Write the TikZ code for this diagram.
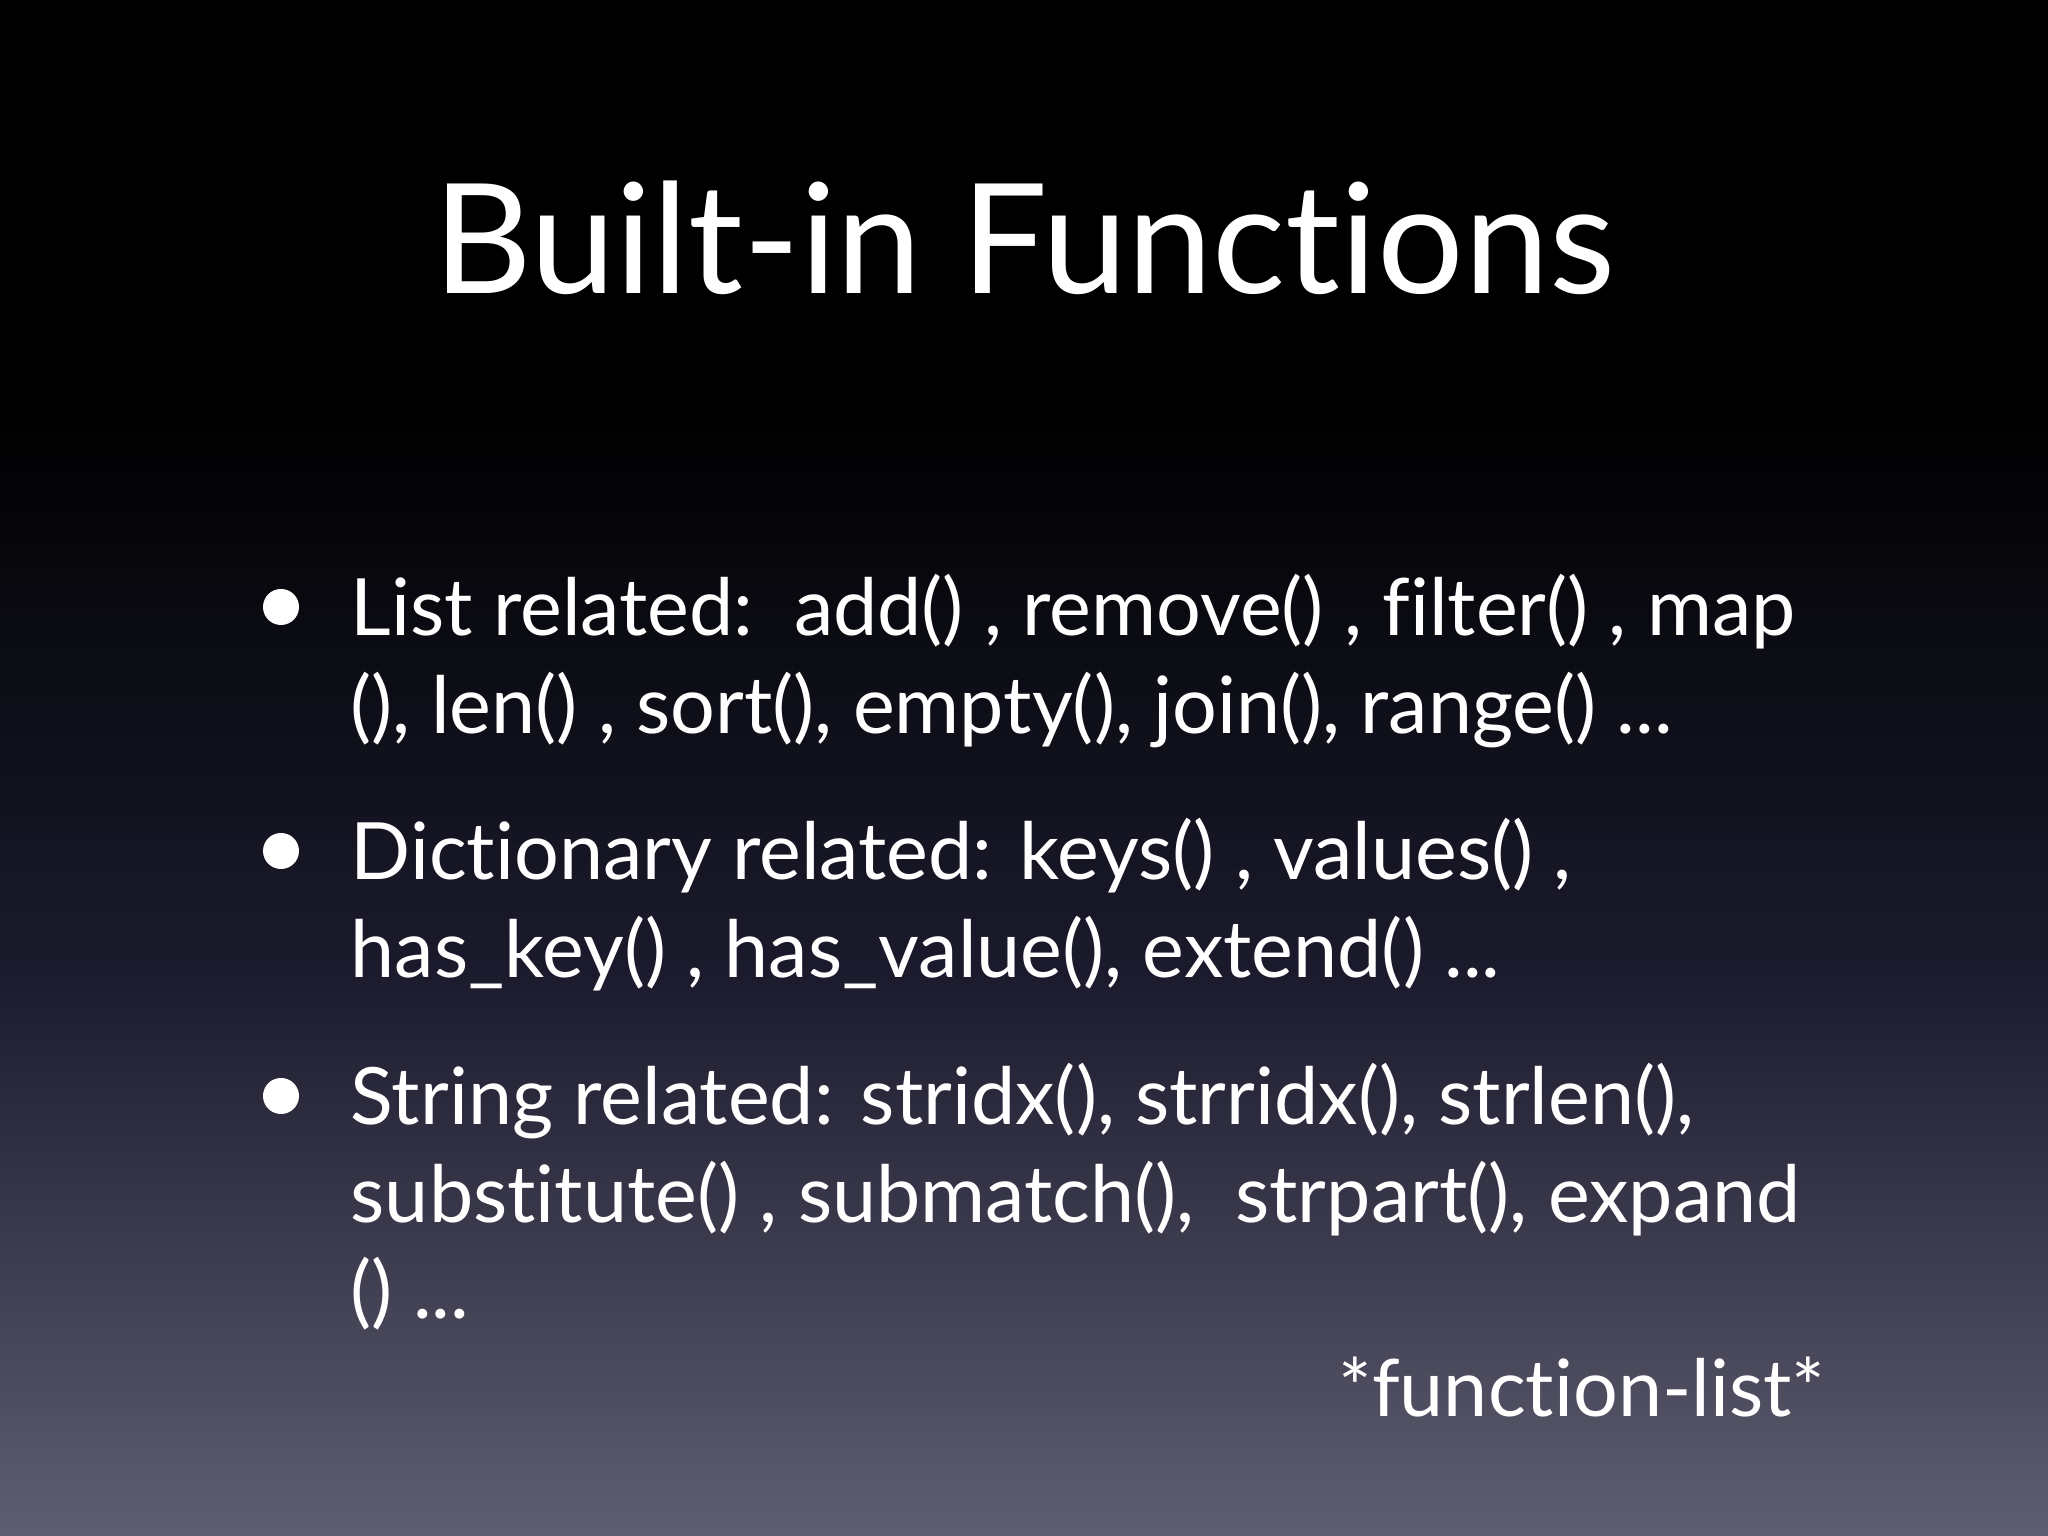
\documentclass[tikz,border=0pt]{standalone}
\usepackage{fontspec}
\setmainfont[RawFeature=-liga]{Lato}
\definecolor{slidetop}{RGB}{0,0,0}
\definecolor{slidemid}{RGB}{26,26,44}
\definecolor{slidebottom}{RGB}{94,94,112}
\begin{document}
\begin{tikzpicture}[
  every node/.style={text=white,inner sep=0pt},
  titletext/.style={font=\fontsize{43.5}{52}\selectfont,anchor=base},
  itemtext/.style={font=\fontsize{22.5}{28}\selectfont,anchor=base west},
  bulletdot/.style={circle,fill=white,minimum size=0.36cm}
]
  % background
  \fill[slidetop] (0,11.4) rectangle (20.48,15.36);
  \shade[top color=slidetop,bottom color=slidebottom,middle color=slidemid] (0,0) rectangle (20.48,11.4);
  \useasboundingbox (0,0) rectangle (20.48,15.36);
  % title
  \node[titletext] (title) at (10.24,12.42) {Built-in Functions};
  % bullets
  \node[bulletdot] (b1) at (2.81,9.29) {};
  \node[bulletdot] (b2) at (2.81,6.85) {};
  \node[bulletdot] (b3) at (2.81,4.40) {};
  \node[itemtext] (l1) at (3.50,9.00) {List related:\ \ add() , remove() , filter() , map};
  \node[itemtext] (l2) at (3.50,8.02) {(), len() , sort(), empty(), join(), range() ...};
  \node[itemtext] (d1) at (3.50,6.56) {Dictionary related: keys() , values() ,};
  \node[itemtext] (d2) at (3.50,5.58) {has\_key() , has\_value(), extend() ...};
  \node[itemtext] (s1) at (3.50,4.11) {String related: stridx(), strridx(), strlen(),};
  \node[itemtext] (s2) at (3.50,3.13) {substitute() , submatch(),\ \ strpart(), expand};
  \node[itemtext] (s3) at (3.50,2.17) {() ...};
  \node[itemtext,anchor=base east] (note) at (18.26,1.19) {*function-list*};
\end{tikzpicture}
\end{document}
